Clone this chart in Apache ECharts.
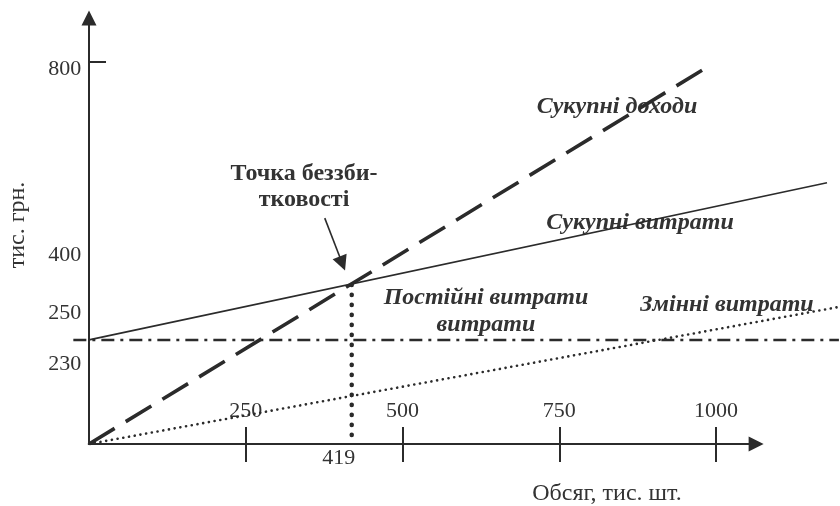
<!DOCTYPE html>
<html>
<head>
<meta charset="utf-8">
<script src="https://cdn.jsdelivr.net/npm/echarts@6/dist/echarts.min.js"></script>
<style>
  html, body { margin: 0; padding: 0; background: #fff; }
  #main { width: 840px; height: 506px; }
</style>
</head>
<body>
<div id="main"></div>
<script>
const chartDom = document.getElementById('main');
const myChart = echarts.init(chartDom, null, { renderer: 'canvas' });

// x ticks (тис. шт.) and the break-even quantity
const xTicks = [250, 500, 750, 1000];
const breakEvenQty = 419;
// y labels as written on the drawing
const yTickLabels = ['800', '400', '250', '230'];
const yTickMark = [800];

// lines [qty, тис. грн.]
const revenue = [[0, 0], [987, 790]];
const totalCost = [[0, 218], [1177, 547]];
const fixedCost = [[-25, 218], [1196, 218]];
const variableCost = [[0, 0], [1196, 287]];
const breakEvenDrop = [[breakEvenQty, 19], [breakEvenQty, 335]];
const pointer = [[376, 473], [404, 378]];
// visible x axis runs from 0 to here
const xAxisEnd = [[0, 0], [1064, 0]];

const serif = '"Liberation Serif", "DejaVu Serif", serif';
const ink = '#2b2b2b';
const txt = '#333';

// where the y labels sit on the drawing
const yLabelSpots = [785, 396, 274, 168];

function lineSeries(data, style) {
  return {
    type: 'line',
    data: data,
    symbol: 'none',
    silent: true,
    lineStyle: Object.assign({ color: ink }, style)
  };
}

function arrowSeries(coords, width) {
  return {
    type: 'lines',
    coordinateSystem: 'cartesian2d',
    silent: true,
    clip: false,
    symbol: ['none', 'triangle'],
    symbolSize: 15,
    lineStyle: { color: ink, width: width, opacity: 1, curveness: 0 },
    data: [{ coords: coords }]
  };
}

let option = {
  animation: false,
  backgroundColor: '#fff',
  grid: { left: 70.2, right: 1.1, top: 18, bottom: 62 },
  xAxis: [
    {
      type: 'value', min: -30, max: 1196, position: 'bottom',
      axisLine: { show: false },
      axisTick: { show: true, inside: true, length: 17, customValues: xTicks, lineStyle: { color: ink, width: 2 } },
      axisLabel: {
        show: true, inside: true, margin: 22, customValues: xTicks,
        formatter: (v) => String(v),
        color: txt, fontFamily: serif, fontSize: 22
      },
      splitLine: { show: false }
    },
    {
      type: 'value', min: -30, max: 1196, position: 'bottom',
      axisLine: { show: false },
      axisTick: { show: true, inside: false, length: 18, customValues: xTicks, lineStyle: { color: ink, width: 2 } },
      axisLabel: {
        show: true, margin: 3, customValues: [breakEvenQty],
        formatter: (v) => String(v),
        padding: [0, 26, 0, 0],
        color: txt, fontFamily: serif, fontSize: 22
      },
      splitLine: { show: false }
    }
  ],
  yAxis: {
    type: 'value', min: 0, max: 892,
    axisLine: {
      show: true, onZero: true,
      symbol: ['none', 'triangle'], symbolSize: [15, 15],
      lineStyle: { color: ink, width: 2 }
    },
    axisTick: { show: true, inside: true, length: 17, customValues: yTickMark, lineStyle: { color: ink, width: 2 } },
    axisLabel: {
      show: true, margin: -11, customValues: yLabelSpots,
      formatter: (v) => yTickLabels[yLabelSpots.indexOf(v)],
      color: txt, fontFamily: serif, fontSize: 22
    },
    splitLine: { show: false }
  },
  series: [
    arrowSeries(xAxisEnd, 2),
    lineSeries(fixedCost, { width: 2.5, type: [13, 6, 3, 6] }),
    lineSeries(variableCost, { width: 2.6, type: [0.1, 5.7], cap: 'round' }),
    lineSeries(totalCost, { width: 1.6 }),
    lineSeries(revenue, { width: 3.6, type: [30, 13] }),
    lineSeries(breakEvenDrop, { width: 4.5, type: [0.1, 9.9], cap: 'round' }),
    arrowSeries(pointer, 1.6)
  ],
  graphic: [
    { type: 'text', x: 304, y: 187, style: { text: 'Точка беззби-\nтковості', align: 'center', verticalAlign: 'middle', lineHeight: 26, font: 'bold 24px ' + serif, fill: txt } },
    { type: 'text', x: 617, y: 107, style: { text: 'Сукупні доходи', align: 'center', verticalAlign: 'middle', font: 'italic bold 24px ' + serif, fill: txt } },
    { type: 'text', x: 640, y: 223, style: { text: 'Сукупні витрати', align: 'center', verticalAlign: 'middle', font: 'italic bold 24px ' + serif, fill: txt } },
    { type: 'text', x: 486, y: 311, style: { text: 'Постійні витрати\nвитрати', align: 'center', verticalAlign: 'middle', lineHeight: 27, font: 'italic bold 24px ' + serif, fill: txt } },
    { type: 'text', x: 727, y: 305, style: { text: 'Змінні витрати', align: 'center', verticalAlign: 'middle', font: 'italic bold 24px ' + serif, fill: txt } },
    { type: 'text', x: 607, y: 494, style: { text: 'Обсяг, тис. шт.', align: 'center', verticalAlign: 'middle', font: '24px ' + serif, fill: txt } },
    { type: 'text', x: 18, y: 225, rotation: Math.PI / 2, style: { text: 'тис. грн.', align: 'center', verticalAlign: 'middle', font: '24px ' + serif, fill: txt } }
  ]
};

myChart.setOption(option);
window.onresize = function() {
  myChart.resize();
};
</script>
</body>
</html>
